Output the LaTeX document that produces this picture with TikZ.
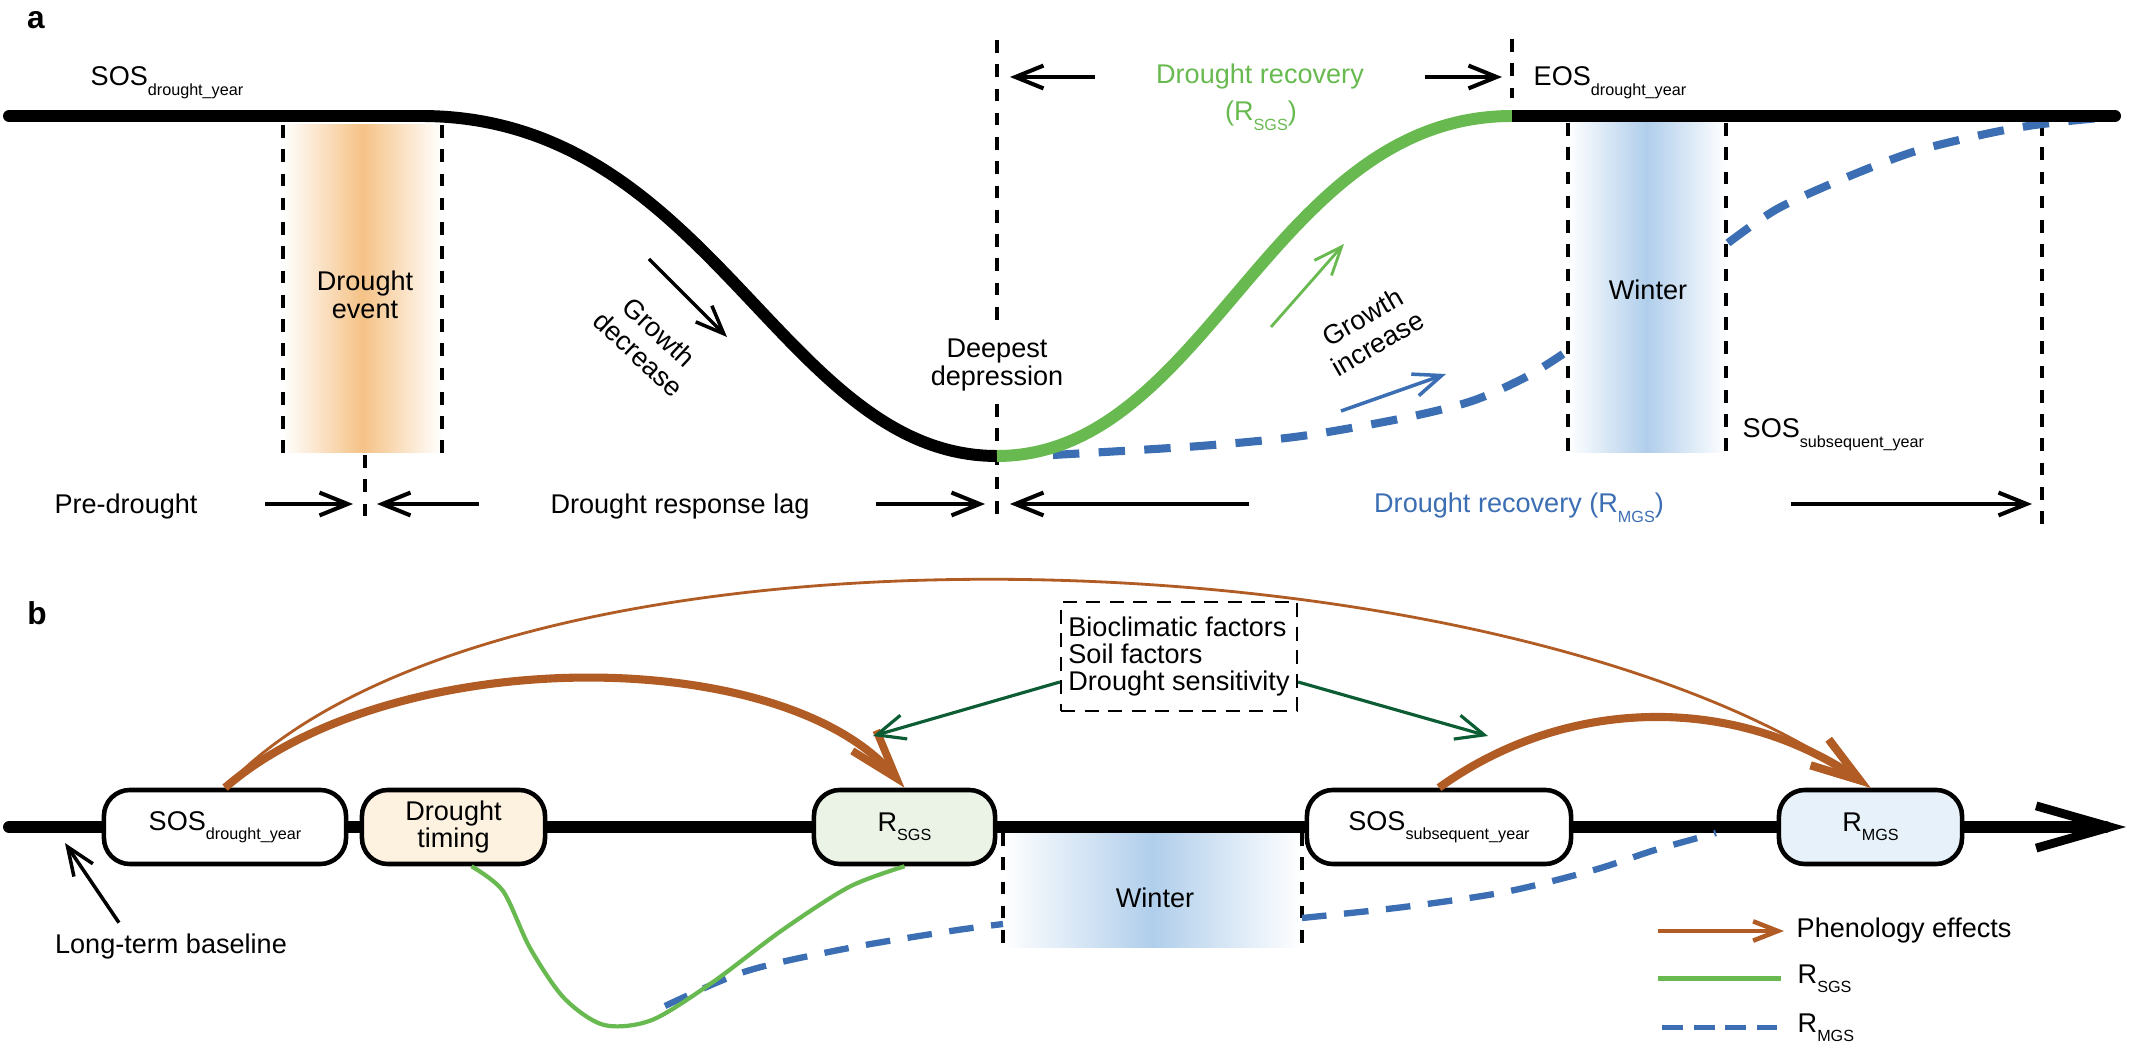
\documentclass[tikz,border=0pt]{standalone}
\usepackage{fontspec}
\setmainfont{Liberation Sans}
\usetikzlibrary{arrows.meta}
\definecolor{sgsGreen}{RGB}{104,186,80}
\definecolor{mgsBlue}{RGB}{59,110,178}
\definecolor{phenoBrown}{RGB}{176,92,36}
\definecolor{factorGreen}{RGB}{12,92,52}
\definecolor{droughtOrange}{RGB}{245,194,134}
\definecolor{winterBlue}{RGB}{176,206,235}
\definecolor{timingFill}{RGB}{253,241,224}
\definecolor{sgsFill}{RGB}{234,243,230}
\definecolor{mgsFill}{RGB}{230,241,250}
\newcommand{\lowText}[1]{\raisebox{-2.6pt}{\fontsize{4.6}{5}\selectfont #1}}
\newcommand{\seasonBand}[5]{%
  \shade[left color=white, right color=white, middle color=#5]
    (#1,#3) rectangle (#2,#4);
  \draw[dashStyle] (#1,#3) -- (#1,#4) (#2,#3) -- (#2,#4);
}

\begin{document}
\begin{tikzpicture}[%
  x=0.01cm, y=-0.01cm,
  font=\fontsize{7.7}{7.9}\selectfont,
  every node/.style={inner sep=0pt},
  mainLine/.style={line width=3.4pt},
  dashStyle/.style={line width=1.1pt, dash pattern=on 3.6pt off 3.3pt},
  rowArrow/.style={line width=1.15pt, -{Straight Barb[length=8pt,width=6.5pt]}},
  slopeArrow/.style={line width=1pt, -{Straight Barb[length=8pt,width=6.5pt]}},
  mgsDashA/.style={mgsBlue, line width=2.3pt, dash pattern=on 7.5pt off 5.5pt},
  mgsDashB/.style={mgsBlue, line width=1.8pt, dash pattern=on 7pt off 5pt},
  sgsThin/.style={sgsGreen, line width=1.2pt},
  phenoTip/.style={-{Straight Barb[length=14pt,width=9pt,line width=2.2pt]}},
  phenoThick/.style={phenoBrown, line width=2.3pt, phenoTip},
  phenoThin/.style={phenoBrown, line width=0.8pt, phenoTip},
  factorArrow/.style={factorGreen, line width=0.9pt, -{Straight Barb[length=8pt,width=7pt]}},
  pill/.style={draw, line width=1.3pt, rounded corners=0.26cm, minimum height=0.74cm, align=center},
  factorBox/.style={draw, line width=0.6pt, dash pattern=on 4pt off 2.7pt, minimum width=2.36cm,
    minimum height=1.09cm, align=left, font=\fontsize{7.7}{7.8}\selectfont},
  slopeText/.style={align=center, font=\fontsize{7.7}{8.6}\selectfont},
  panelLabel/.style={font=\bfseries\fontsize{9}{9}\selectfont}
]
%
\pgfmathsetmacro{\topY}{116}   % Level of the undisturbed growth line.
\pgfmathsetmacro{\lowY}{456}   % Level of the deepest depression.
\pgfmathsetmacro{\rowY}{504}   % Level of the period arrows.
\pgfmathsetmacro{\axisY}{827}  % Level of the time axis in panel b.
\useasboundingbox (0,0) rectangle (2129,1055);
%
% Panel a: growth trajectory through the drought.
\node[panelLabel] (labelA) at (36,20) {a};
\seasonBand{283}{442}{125}{453}{droughtOrange}
\seasonBand{1568}{1726}{123}{453}{winterBlue}
\draw[dashStyle] (365,455) -- (365,525);
\draw[dashStyle] (997,40) -- (997,525);
\draw[dashStyle] (1512,39) -- (1512,98);
\draw[dashStyle] (2042,123) -- (2042,530);
\draw[mgsDashA] plot[smooth] coordinates {(1053,455) (1200,446) (1302,436) (1404,418)
  (1472,401) (1526,377) (1563,354)};
\draw[mgsDashA] plot[smooth] coordinates {(1728,243) (1777,209) (1845,178) (1913,152)
  (1981,135) (2028,126) (2069,121) (2100,118)};
\draw[mainLine, line cap=round] (9,\topY) -- (421,\topY)
  .. controls (711,\topY) and (782,\lowY) .. (997,\lowY);
\draw[mainLine, sgsGreen] (997,\lowY) .. controls (1207,\lowY) and (1271,\topY) .. (1512,\topY);
\draw[mainLine, -{Round Cap[]}] (1512,\topY) -- (2121,\topY);
%
\node[anchor=base west] (sosLabel) at (90,86) {SOS\lowText{drought\_year}};
\node[anchor=base west] (eosLabel) at (1533,86) {EOS\lowText{drought\_year}};
\node[anchor=base west] (sosNextLabel) at (1742,438) {SOS\lowText{subsequent\_year}};
\node[align=center] (droughtLabel) at (365,295) {Drought\\event};
\node[anchor=base] (winterLabelA) at (1648,300) {Winter};
\node[align=center, fill=white, inner xsep=0.04cm, inner ysep=0.13cm] (deepLabel)
  at (997,365) {Deepest\\depression};
\node[slopeText, rotate=-43] (decLabel) at (649,343) {Growth\\decrease};
\node[slopeText, rotate=30] (incLabel) at (1370,330) {Growth\\increase};
\draw[slopeArrow] (649,259) -- (727,337);
\draw[slopeArrow, sgsGreen, line width=0.8pt] (1271,327) -- (1344,244);
\draw[slopeArrow, mgsBlue] (1341,411) -- (1446,374);
%
\node[anchor=base, text=sgsGreen] (sgsTitle) at (1260,84) {Drought recovery};
\node[anchor=base, text=sgsGreen] (sgsSymbol) at (1261,121) {(R\lowText{SGS})};
\draw[rowArrow] (1095,77) -- (1010,77);
\draw[rowArrow] (1425,77) -- (1502,77);
%
\node[anchor=base] (preLabel) at (126,514) {Pre-drought};
\draw[rowArrow] (265,\rowY) -- (353,\rowY);
\draw[rowArrow] (479,\rowY) -- (377,\rowY);
\node[anchor=base] (lagLabel) at (680,514) {Drought response lag};
\draw[rowArrow] (876,\rowY) -- (985,\rowY);
\draw[rowArrow] (1249,\rowY) -- (1010,\rowY);
\node[anchor=base, text=mgsBlue] (mgsTitle) at (1519,513) {Drought recovery (R\lowText{MGS})};
\draw[rowArrow] (1791,\rowY) -- (2032,\rowY);
%
% Panel b: links between phenology and recovery.
\node[panelLabel] (labelB) at (37,613) {b};
\seasonBand{1003}{1302}{833}{948}{winterBlue}
\node[anchor=base] (winterLabelB) at (1155,907) {Winter};
\draw[mainLine, line cap=round, -{Straight Barb[length=21pt,width=12pt,line width=2.5pt]}]
  (9,\axisY) -- (2126,\axisY);
\node[pill, fill=white, minimum width=2.42cm] (sosDry) at (225,\axisY) {SOS\lowText{drought\_year}};
\node[pill, fill=timingFill, minimum width=1.83cm] (timing) at (453.5,\axisY) {Drought\\timing};
\node[pill, fill=sgsFill, minimum width=1.81cm] (rsgs) at (904.5,\axisY) {R\lowText{SGS}};
\node[pill, fill=white, minimum width=2.64cm] (sosSub) at (1439,\axisY) {SOS\lowText{subsequent\_year}};
\node[pill, fill=mgsFill, minimum width=1.83cm] (rmgs) at (1870.5,\axisY) {R\lowText{MGS}};
%
\coordinate (dipStart) at ([xshift=0.18cm]timing.south);
\coordinate (mgsStart) at (665,1006);
\coordinate (winterIn) at (1003,924);
\coordinate (winterOut) at (1302,918);
\coordinate (mgsEnd) at (1716,833);
\draw[mgsDashB] plot[smooth] coordinates {(mgsStart) (747,971) (849,948) (951,931) (winterIn)};
\draw[mgsDashB] plot[smooth] coordinates {(winterOut) (1404,907) (1505,892) (1594,870)
  (1655,850) (mgsEnd)};
\draw[sgsThin] plot[smooth] coordinates {(dipStart) (503,891) (530,948) (564,998) (604,1025)
  (652,1020) (713,982) (781,931) (849,887) (rsgs.south)};
%
\draw[phenoThin] (sosDry.north) .. controls (500,495) and (1500,528) .. (rmgs.north);
\draw[phenoThick] (sosDry.north) .. controls (392,643) and (781,643) .. (rsgs.north);
\draw[phenoThick] (sosSub.north) .. controls (1568,695) and (1736,695) .. (rmgs.north);
%
\node[factorBox] (factors) at (1179,656.5) {Bioclimatic factors\\Soil factors\\Drought sensitivity};
\coordinate (sgsHit) at (873,736);
\coordinate (mgsHit) at (1488,736);
\draw[factorArrow] ([yshift=-0.255cm]factors.west) -- (sgsHit);
\draw[factorArrow] ([yshift=-0.255cm]factors.east) -- (mgsHit);
%
\node[anchor=base] (baselineLabel) at (171,953) {Long-term baseline};
\coordinate (baselineTip) at (65,843);
\draw[slopeArrow] ([xshift=-0.52cm, yshift=0.1cm]baselineLabel.north) -- (baselineTip);
%
% Legend.
\node[anchor=base west] (legPheno) at (1796,938) {Phenology effects};
\node[anchor=base west] (legSgs) at (1797,983) {R\lowText{SGS}};
\node[anchor=base west] (legMgs) at (1797,1032) {R\lowText{MGS}};
\draw[phenoBrown, line width=1.3pt, -{Straight Barb[length=7pt,width=5.5pt]}]
  ([xshift=-1.38cm]legPheno.west) -- ([xshift=-0.12cm]legPheno.west);
\draw[sgsThin, line width=1.4pt] ([xshift=-1.39cm]legSgs.west) -- ([xshift=-0.16cm]legSgs.west);
\draw[mgsDashB, line width=1.4pt, dash pattern=on 6pt off 3pt]
  ([xshift=-1.35cm]legMgs.west) -- ([xshift=-0.2cm]legMgs.west);
\end{tikzpicture}
\end{document}
